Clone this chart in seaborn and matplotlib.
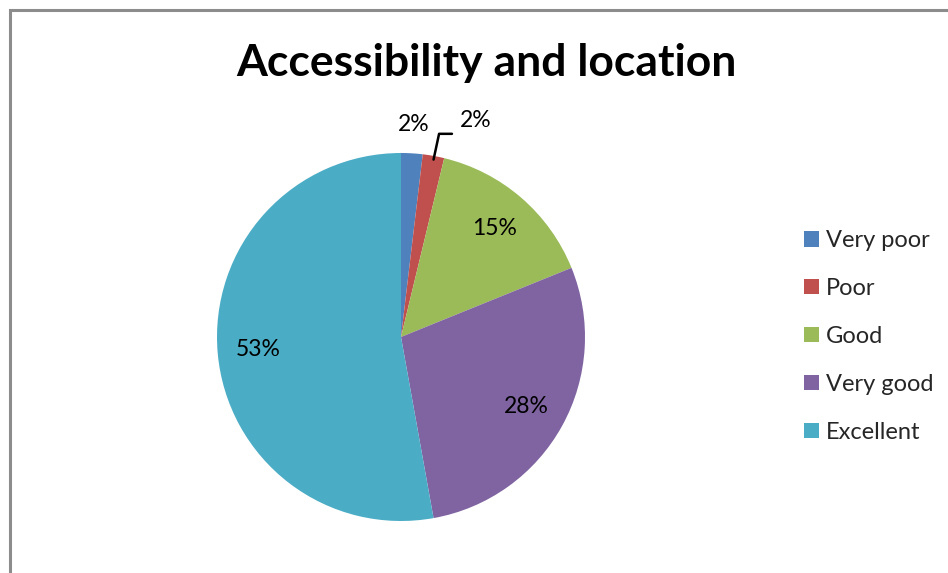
import numpy as np
import matplotlib
matplotlib.use("Agg")
import matplotlib.pyplot as plt
import seaborn as sns
from matplotlib.patches import Rectangle

sns.set_theme(style="white")
plt.rcParams["font.family"] = ["Lato", "DejaVu Sans"]

categories = ["Very poor", "Poor", "Good", "Very good", "Excellent"]
counts = [1, 1, 8, 15, 28]
colors = ["#4F81BD", "#C0504D", "#9BBB59", "#8064A2", "#4BACC6"]

W, H = 948, 573
fig = plt.figure(figsize=(W / 100, H / 100), dpi=100)
fig.patch.set_facecolor("white")

# chart border (left and top only visible, rest cut off)
fig.patches.append(Rectangle((10 / W, -0.1), 1.2, 1 - 10 / H + 0.1, transform=fig.transFigure,
                             fill=False, edgecolor="#8c8c8c", linewidth=2.2, clip_on=False))

cx, cy, r = 401, 337, 184
ax = fig.add_axes([(cx - r) / W, (H - cy - r) / H, 2 * r / W, 2 * r / H])
total = sum(counts)
wedges, _ = ax.pie(counts, colors=colors, startangle=90, counterclock=False,
                   wedgeprops=dict(linewidth=0))
ax.set_xlim(-1, 1)
ax.set_ylim(-1, 1)
ax.set_aspect("equal")
ax.axis("off")

fs = 16.5
pct = [f"{round(c / total * 100)}%" for c in counts]
for w, lab, c in zip(wedges, pct, counts):
    mid = np.deg2rad((w.theta1 + w.theta2) / 2)
    if c / total > 0.05:
        ax.text(0.78 * np.cos(mid), 0.78 * np.sin(mid), lab, ha="center", va="center",
                fontsize=fs, color="black")

# small slices: labels outside
m0 = np.deg2rad((wedges[0].theta1 + wedges[0].theta2) / 2)
ax.text(1.16 * np.cos(m0), 1.155 * np.sin(m0), pct[0], ha="center", va="center",
        fontsize=fs, color="black")
m1 = np.deg2rad((wedges[1].theta1 + wedges[1].theta2) / 2)
p0 = (1.0 * np.cos(m1), 1.0 * np.sin(m1))
ax.plot([p0[0], p0[0] + 0.03, p0[0] + 0.1], [p0[1] - 0.02, p0[1] + 0.12, p0[1] + 0.12],
        color="black", lw=1.8, clip_on=False)
ax.text(p0[0] + 0.23, p0[1] + 0.19, pct[1], ha="center", va="center",
        fontsize=fs, color="black")

fig.text(486 / W, 1 - 63 / H, "Accessibility and location", ha="center", va="center",
         fontsize=32, fontweight="bold", color="black")

fig.legend(wedges, categories, loc="upper left", bbox_to_anchor=(804 / W, 1 - 230 / H),
           frameon=False, fontsize=17, handlelength=0.64, handleheight=0.64,
           handletextpad=0.28, labelspacing=1.14, borderpad=0, borderaxespad=0)

fig.savefig("out.png", dpi=100)
